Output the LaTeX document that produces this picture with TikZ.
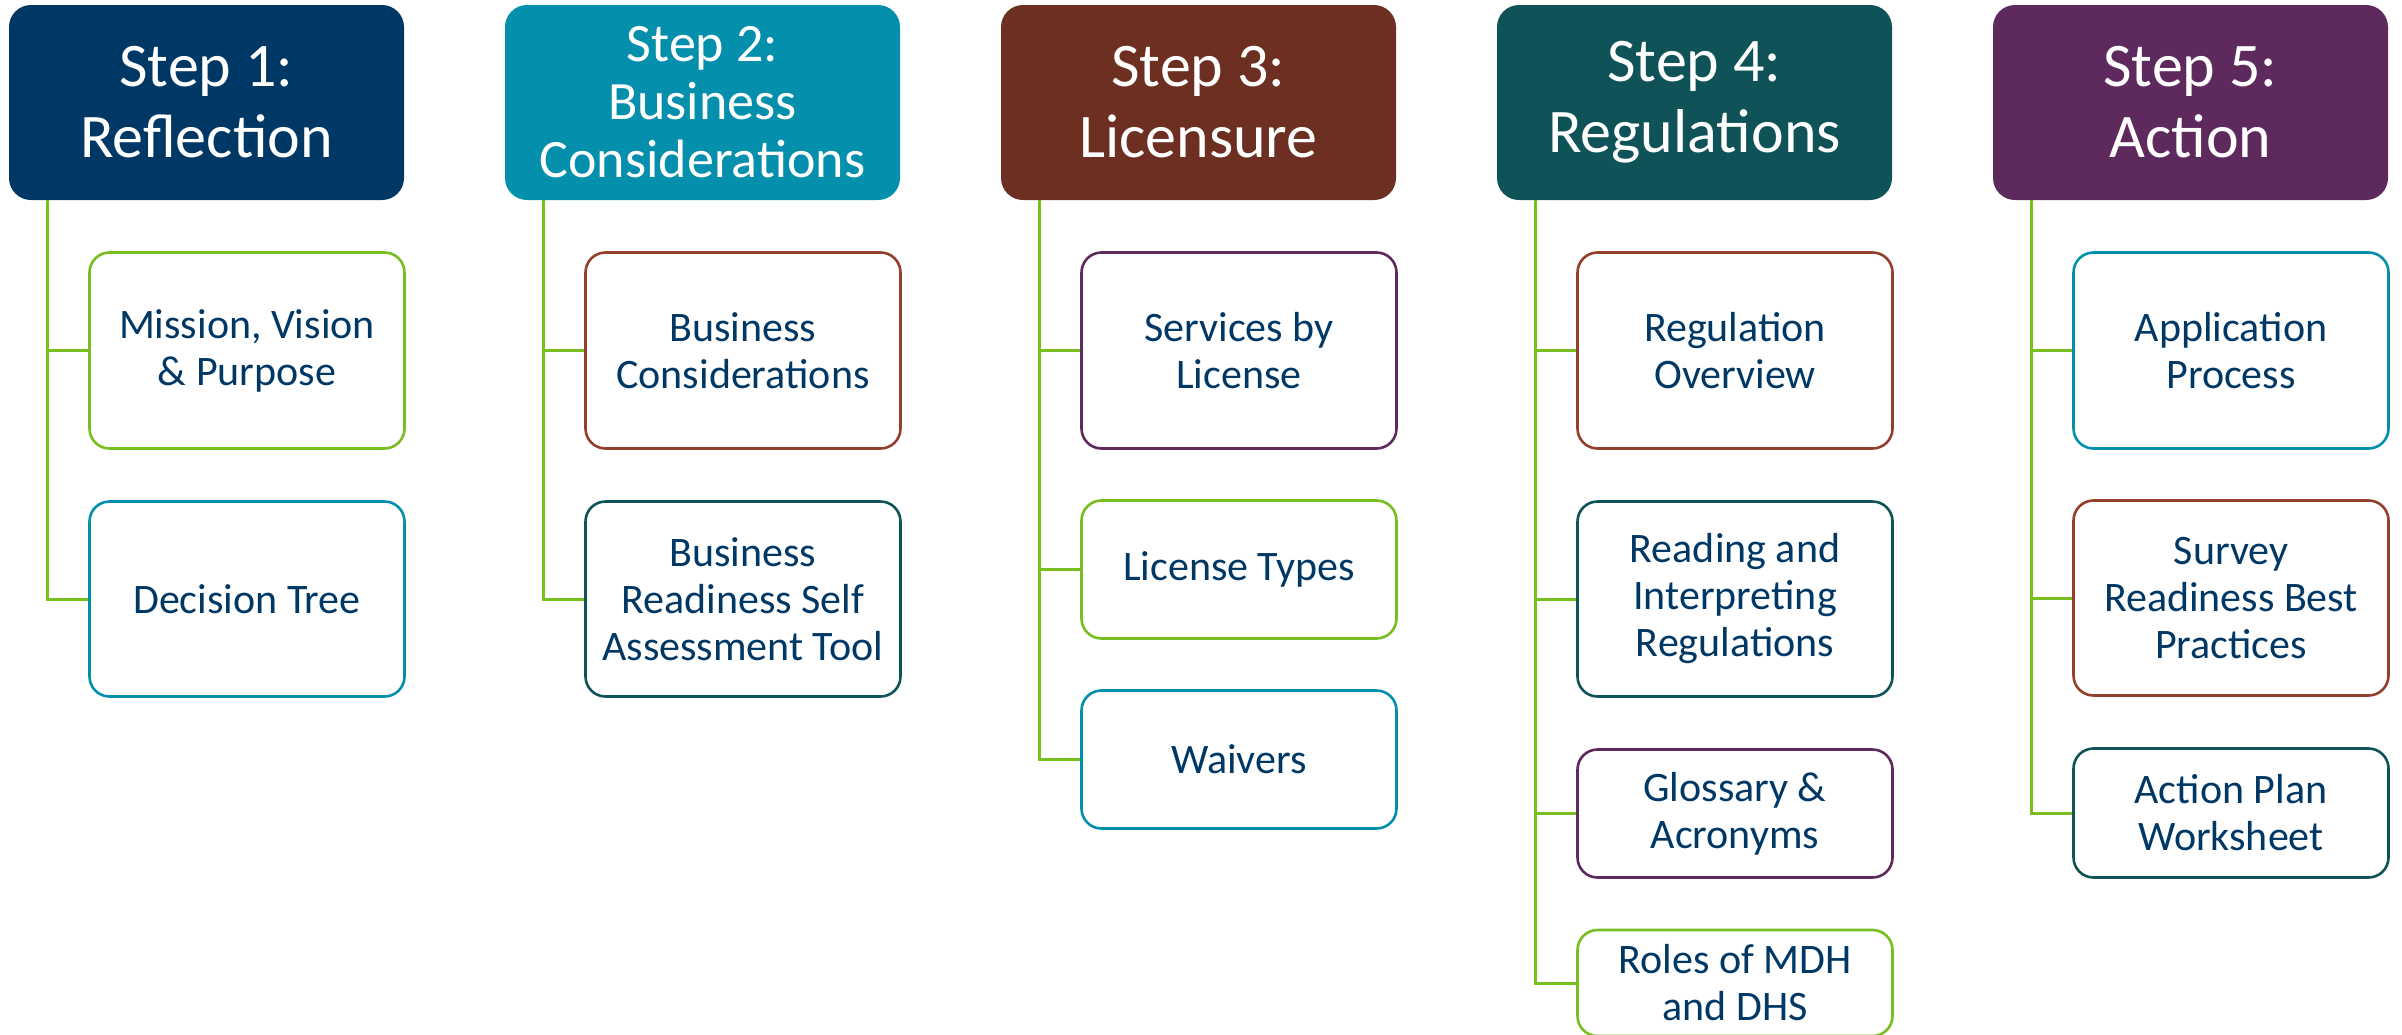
\documentclass[tikz,border=0pt]{standalone}
\usepackage{fontspec}
\setmainfont{Carlito}
\definecolor{navy}{HTML}{003865}
\definecolor{mnteal}{HTML}{0490AC}
\definecolor{brownhead}{HTML}{6C2F22}
\definecolor{brownline}{HTML}{923F2B}
\definecolor{darkteal}{HTML}{0F5257}
\definecolor{mnpurple}{HTML}{5E2A5E}
\definecolor{mngreen}{HTML}{78BE21}
\begin{document}
\begin{tikzpicture}[x=1pt,y=-1pt,
  head/.style={rounded corners=22pt, minimum width=395pt, minimum height=195pt,
    text=white, align=center, font=\fontsize{62}{71}\selectfont, inner sep=0pt},
  headsmall/.style={head, font=\fontsize{54}{58}\selectfont},
  child/.style={draw, line width=2.6pt, rounded corners=20pt, fill=white,
    minimum width=315pt, align=center, text=navy,
    font=\fontsize{42}{47}\selectfont, inner sep=0pt},
  link/.style={draw=mngreen, line width=3pt}]
\useasboundingbox (0,0) rectangle (2402,1034);
\clip (0,0) rectangle (2402,1034);

% headers
\node[head, fill=navy] (h1) at (206.5,102.5) {Step 1:\\Reflection};
\node[headsmall, fill=mnteal] (h2) at (702.5,102.5) {Step 2:\\Business\\Considerations};
\node[head, fill=brownhead] (h3) at (1198.5,102.5) {Step 3:\\Licensure};
\node[head, fill=darkteal] (h4) at (1694.5,102.5) {Step 4:\\Regulations};
\node[head, fill=mnpurple] (h5) at (2190.5,102.5) {Step 5:\\Action};

% step 1 children
\node[child, draw=mngreen, minimum height=196pt] (c11) at (247,350.5) {Mission, Vision\\\& Purpose};
\node[child, draw=mnteal, minimum height=195pt] (c12) at (247,599) {Decision Tree};
% step 2 children
\node[child, draw=brownline, minimum height=196pt] (c21) at (743,350.5) {Business\\Considerations};
\node[child, draw=darkteal, minimum height=195pt] (c22) at (743,599) {Business\\Readiness Self\\Assessment Tool};
% step 3 children
\node[child, draw=mnpurple, minimum height=196pt] (c31) at (1239,350.5) {Services by\\License};
\node[child, draw=mngreen, minimum height=138pt] (c32) at (1239,569.5) {License Types};
\node[child, draw=mnteal, minimum height=138pt] (c33) at (1239,759.5) {Waivers};
% step 4 children
\node[child, draw=brownline, minimum height=196pt] (c41) at (1735,350.5) {Regulation\\Overview};
\node[child, draw=darkteal, minimum height=195pt] (c42) at (1735,599) {Reading and\\Interpreting\\Regulations};
\node[child, draw=mnpurple, minimum height=128pt] (c43) at (1735,813.5) {Glossary \&\\Acronyms};
\node[child, draw=mngreen, minimum height=106pt] (c44) at (1735,983) {Roles of MDH\\and DHS};
% step 5 children
\node[child, draw=mnteal, minimum height=196pt] (c51) at (2231,350.5) {Application\\Process};
\node[child, draw=brownline, minimum height=195pt] (c52) at (2231,598) {Survey\\Readiness Best\\Practices};
\node[child, draw=darkteal, minimum height=129pt] (c53) at (2231,813) {Action Plan\\Worksheet};

% connectors
\foreach \h/\c in {h1/c11,h1/c12,h2/c21,h2/c22,h3/c31,h3/c32,h3/c33,
                   h4/c41,h4/c42,h4/c43,h4/c44,h5/c51,h5/c52,h5/c53}
  \draw[link] ([xshift=39pt]\h.south west) |- (\c.west);
\end{tikzpicture}
\end{document}
